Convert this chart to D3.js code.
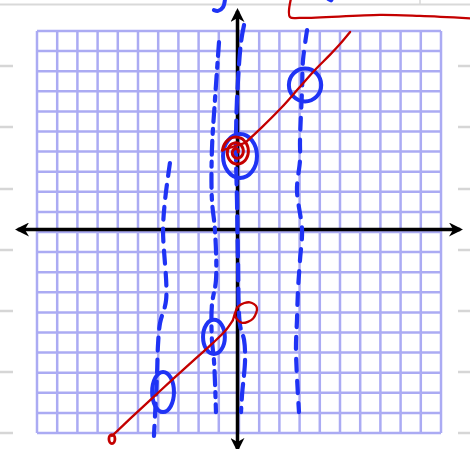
<!DOCTYPE html>
<html><head><meta charset="utf-8">
<script src="https://cdn.jsdelivr.net/npm/d3@7"></script>
<style>html,body{margin:0;padding:0;background:#fff;overflow:hidden}</style>
</head><body>
<svg id="c" width="470" height="449"></svg>
<script>
// ---- data (graph units) ----
const gridTicks = d3.range(-10, 11, 1);
const redLower = [[-6.29,-10.15],[-5.40,-9.30],[-3.91,-7.91],[-2.18,-6.32],[-1.34,-5.57],[-0.69,-4.93],[-0.30,-4.38]];
const redLoop = [[-0.30,-4.38],[0.0,-3.68],[0.54,-3.50],[0.88,-3.75],[0.70,-4.30],[0.15,-4.52],[-0.18,-4.20],[-0.10,-3.75]];
const redUpper = [[0.30,4.43],[1.14,5.22],[2.13,6.22],[2.92,7.11],[3.76,8.06],[4.50,8.81],[5.00,9.35],[5.50,9.95]];
const redStartDot = [-6.29,-10.3];
const redSpiralCenter = [-0.12, 3.98];
const redBox = [[2.57,11.6],[2.52,10.70],[3.02,10.65],[6.98,10.80],[8.96,10.75],[11.6,10.62]];
const blueCircles = [
  {cx:3.27, cy:7.31, rx:0.80, ry:0.82},
  {cx:0.05, cy:3.78, rx:0.84, ry:1.09},
  {cx:-1.24, cy:-5.22, rx:0.54, ry:0.85},
  {cx:-3.76, cy:-7.96, rx:0.54, ry:1.0}
];
const dashA = [[-3.42,3.43],[-3.66,1.59],[-3.76,0.10],[-3.61,-3.38],[-3.91,-4.53],[-4.01,-5.62],[-4.06,-7.11],[-4.21,-10.15]];
const dashB = [[-0.99,9.45],[-1.19,6.57],[-1.34,4.08],[-1.34,1.59],[-1.19,0.10],[-1.14,-2.39],[-1.34,-3.63],[-1.34,-5.37],[-1.24,-6.37],[-1.14,-8.96]];
const dashC = [[0.25,10.30],[0.10,9.45],[-0.10,6.57],[-0.15,4.08],[-0.10,1.59],[-0.05,-1.39],[0.05,-4.63],[0.25,-5.37],[0.30,-6.37],[0.15,-8.11],[0.10,-8.96]];
const dashD = [[3.37,10.05],[3.17,8.56],[3.12,7.06],[3.02,4.58],[3.02,3.58],[2.87,2.09],[3.12,0.10],[3.02,-1.39],[2.92,-2.89],[2.87,-4.38],[2.82,-5.87],[2.97,-8.96]];
const blueY = [[-0.69,11.6],[-0.79,11.19],[-1.04,11.0],[-1.24,11.04]];
const blueBlob = [[4.45,11.6],[4.55,11.55]];
const axisExtent = {x:[-10.95,10.95], y:[11.0,-10.8]};
const sideRules = [66,127,189,250,311,372,433];

// ---- scales ----
const svg = d3.select("#c");
const x = d3.scaleLinear().domain([-10,10]).range([37,441]);
const y = d3.scaleLinear().domain([-10,10]).range([433,31]);
const line = d3.line().x(d=>x(d[0])).y(d=>y(d[1])).curve(d3.curveCatmullRom.alpha(0.5));

const BLUE = "#1f33f5", RED = "#c40000", GRID = "#9d9df2";

// page decorations (gray rules)
svg.append("line").attr("x1",0).attr("x2",470).attr("y1",4.5).attr("y2",4.5).attr("stroke","#d9d9d9").attr("stroke-width",2);
svg.append("line").attr("x1",420).attr("x2",420).attr("y1",0).attr("y2",5).attr("stroke","#d9d9d9").attr("stroke-width",1.5);
svg.selectAll("line.lr").data(sideRules).join("line").attr("class","lr")
  .attr("x1",0).attr("x2",13).attr("y1",d=>d).attr("y2",d=>d).attr("stroke","#d6d6d6").attr("stroke-width",2.5);
svg.selectAll("line.rr").data(sideRules).join("line").attr("class","rr")
  .attr("x1",458).attr("x2",470).attr("y1",d=>d).attr("y2",d=>d).attr("stroke","#d6d6d6").attr("stroke-width",2.5);

// grid
const g = svg.append("g").attr("opacity",0.85);
g.selectAll("line.v").data(gridTicks).join("line").attr("class","v")
  .attr("x1",d=>x(d)).attr("x2",d=>x(d)).attr("y1",y(10)).attr("y2",y(-10))
  .attr("stroke",GRID).attr("stroke-width",2.5);
g.selectAll("line.h").data(gridTicks).join("line").attr("class","h")
  .attr("y1",d=>y(d)).attr("y2",d=>y(d)).attr("x1",x(-10)).attr("x2",x(10))
  .attr("stroke",GRID).attr("stroke-width",2.5);

// axes with arrows (hand-placed slightly off the grid line, as in the scan)
const ax0 = x(0) - 1.5, ay0 = y(0) - 2.5;
const defs = svg.append("defs");
defs.append("marker").attr("id","arr").attr("viewBox","0 0 10 10").attr("refX",8).attr("refY",5)
  .attr("markerWidth",4).attr("markerHeight",4).attr("orient","auto-start-reverse")
  .append("path").attr("d","M0,0 L10,5 L0,10 L3,5 Z").attr("fill","#000");
svg.append("line").attr("x1",x(axisExtent.x[0])).attr("x2",x(axisExtent.x[1])).attr("y1",ay0).attr("y2",ay0)
  .attr("stroke","#000").attr("stroke-width",3.5).attr("marker-start","url(#arr)").attr("marker-end","url(#arr)");
svg.append("line").attr("x1",ax0).attr("x2",ax0).attr("y1",y(axisExtent.y[0])).attr("y2",y(axisExtent.y[1]))
  .attr("stroke","#000").attr("stroke-width",3.5).attr("marker-start","url(#arr)").attr("marker-end","url(#arr)");

// blue dashed verticals
const dashes = [{d:dashA,p:"13,9"},{d:dashB,p:"14,7,5,7"},{d:dashC,p:"16,8"},{d:dashD,p:"12,10"}];
svg.selectAll("path.dash").data(dashes).join("path").attr("class","dash")
  .attr("d",d=>line(d.d)).attr("fill","none").attr("stroke",BLUE).attr("stroke-width",4.2)
  .attr("stroke-linecap","round").attr("stroke-dasharray",d=>d.p);

// blue circles
svg.selectAll("ellipse.bc").data(blueCircles).join("ellipse").attr("class","bc")
  .attr("cx",d=>x(d.cx)).attr("cy",d=>y(d.cy))
  .attr("rx",d=>x(d.rx)-x(0)).attr("ry",d=>y(0)-y(d.ry))
  .attr("fill","none").attr("stroke",BLUE).attr("stroke-width",4);

// blue handwriting at top
svg.append("path").attr("d",line(blueY)).attr("fill","none").attr("stroke",BLUE).attr("stroke-width",4).attr("stroke-linecap","round");
svg.append("path").attr("d",line(blueBlob)).attr("fill","none").attr("stroke",BLUE).attr("stroke-width",5).attr("stroke-linecap","round");

// red lines
const redStroke = sel => sel.attr("fill","none").attr("stroke",RED).attr("stroke-width",2.3).attr("stroke-linecap","round").attr("stroke-linejoin","round");
svg.append("path").attr("d",line(redLower)).call(redStroke);
svg.append("path").attr("d",line(redLoop)).call(redStroke);
svg.append("path").attr("d",line(redUpper)).call(redStroke);
svg.append("path").attr("d",line(redBox)).call(redStroke);
svg.append("ellipse").attr("cx",x(redStartDot[0])).attr("cy",y(redStartDot[1])).attr("rx",3).attr("ry",4.5)
  .attr("fill","none").attr("stroke",RED).attr("stroke-width",2.8);
// spiral scribble
const sp = d3.range(0, 5*Math.PI, 0.3).map(t => {
  const r = 0.08 + 0.04*t;
  return [redSpiralCenter[0] + r*Math.cos(t), redSpiralCenter[1] + 1.15*r*Math.sin(t)];
});
svg.append("path").attr("d",line(sp)).call(redStroke).attr("stroke-width",3);
svg.append("path").attr("d",line([sp[sp.length-1], redUpper[0]])).call(redStroke);
</script>
</body></html>
